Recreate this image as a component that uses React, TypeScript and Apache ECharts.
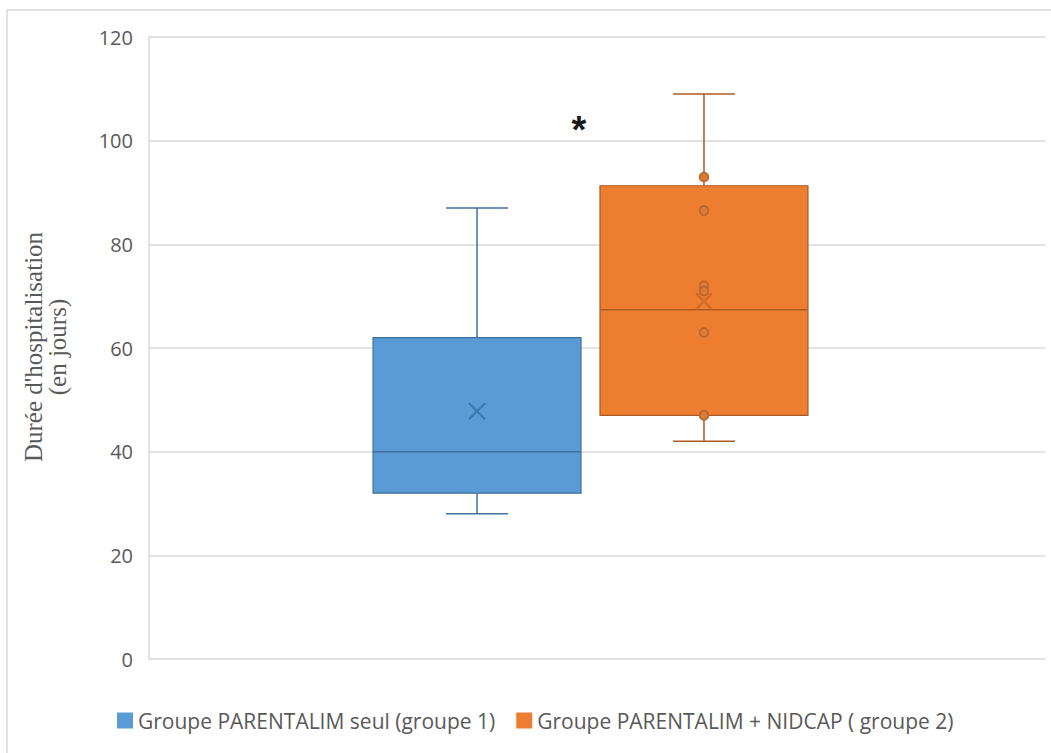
import React, { useEffect, useRef } from "react";
import * as echarts from "echarts";

const seriesNames = [
  "Groupe PARENTALIM seul (groupe 1)",
  "Groupe PARENTALIM + NIDCAP ( groupe 2)",
];
const categories = [""];
// [min, Q1, median, Q3, max, mean]
const group1Stats = [28, 32, 40, 62, 87, 47.8];
const group2Stats = [42, 47, 67.4, 91.3, 109, 69];
const group2Points = [93, 86.5, 72, 71, 63, 47];
const yMin = 0;
const yMax = 120;
const yStep = 20;
const yTitle = "Durée d'hospitalisation\n(en jours)";
const significance = "*";

const BLUE = "#5b9bd5";
const BLUE_DARK = "#41719c";
const ORANGE = "#ed7d31";
const ORANGE_DARK = "#ae5a21";

function boxRenderer(offsetFrac: number, fill: string, stroke: string, meanColor: string) {
  return (params: any, api: any) => {
    const band = api.size([1, 0])[0];
    const cx = api.coord([api.value(0), 0])[0] + offsetFrac * band;
    const w = 0.2321 * band;
    const cap = 0.0692 * band;
    const y = (i: number) => api.coord([api.value(0), api.value(i)])[1];
    const ymin = y(1), yq1 = y(2), ymed = y(3), yq3 = y(4), ymax = y(5), ymean = y(6);
    const ls = { stroke, lineWidth: 1.5 };
    const m = 8;
    return {
      type: "group",
      children: [
        { type: "line", shape: { x1: cx, y1: ymax, x2: cx, y2: yq3 }, style: ls },
        { type: "line", shape: { x1: cx, y1: yq1, x2: cx, y2: ymin }, style: ls },
        { type: "line", shape: { x1: cx - cap / 2, y1: ymax, x2: cx + cap / 2, y2: ymax }, style: ls },
        { type: "line", shape: { x1: cx - cap / 2, y1: ymin, x2: cx + cap / 2, y2: ymin }, style: ls },
        {
          type: "rect",
          shape: { x: cx - w / 2, y: yq3, width: w, height: yq1 - yq3 },
          style: { fill, stroke, lineWidth: 1.2 },
        },
        { type: "line", shape: { x1: cx - w / 2, y1: ymed, x2: cx + w / 2, y2: ymed }, style: { stroke, lineWidth: 1.5 } },
        { type: "line", shape: { x1: cx - m, y1: ymean - m, x2: cx + m, y2: ymean + m }, style: { stroke: meanColor, lineWidth: 2.2 } },
        { type: "line", shape: { x1: cx - m, y1: ymean + m, x2: cx + m, y2: ymean - m }, style: { stroke: meanColor, lineWidth: 2.2 } },
      ],
    };
  };
}

function pointRenderer(offsetFrac: number) {
  return (params: any, api: any) => {
    const band = api.size([1, 0])[0];
    const p = api.coord([api.value(0), api.value(1)]);
    return {
      type: "circle",
      shape: { cx: p[0] + offsetFrac * band, cy: p[1], r: 4.5 },
      style: { fill: "#d97a38", stroke: "#b8622a", lineWidth: 1.5 },
    };
  };
}

export default function App() {
  const ref = useRef<HTMLDivElement>(null);
  useEffect(() => {
    if (!ref.current) return;
    const chart = echarts.init(ref.current, undefined, { renderer: "svg" });
    const off1 = -0.1339;
    const off2 = 0.1194;
    chart.setOption({
      animation: false,
      backgroundColor: "#ffffff",
      grid: { left: 149, right: 6, top: 37, bottom: 94, containLabel: false },
      xAxis: {
        type: "category",
        data: categories,
        axisLine: { show: false },
        axisTick: { show: false },
        axisLabel: { show: false },
        splitLine: { show: false },
      },
      yAxis: {
        type: "value",
        min: yMin,
        max: yMax,
        interval: yStep,
        axisLine: { show: true, lineStyle: { color: "#d9d9d9", width: 1.5 } },
        axisTick: { show: false },
        axisLabel: { color: "#595959", fontSize: 20, fontFamily: "Open Sans", margin: 16 },
        splitLine: { lineStyle: { color: "#d9d9d9", width: 1.5 } },
      },
      legend: {
        data: seriesNames,
        left: 112,
        top: 705,
        icon: "rect",
        itemWidth: 16,
        itemHeight: 16,
        itemGap: 21,
        itemStyle: { borderWidth: 0 },
        textStyle: { color: "#595959", fontSize: 21, fontFamily: "Open Sans" },
      },
      series: [
        {
          type: "custom",
          name: seriesNames[0],
          itemStyle: { color: BLUE },
          renderItem: boxRenderer(off1, BLUE, BLUE_DARK, "#3f77b0"),
          data: [[0, ...group1Stats]],
        },
        {
          type: "custom",
          name: seriesNames[1],
          itemStyle: { color: ORANGE },
          renderItem: boxRenderer(off2, ORANGE, ORANGE_DARK, "#d06a28"),
          data: [[0, ...group2Stats]],
        },
        {
          type: "custom",
          name: "points",
          renderItem: pointRenderer(off2),
          data: group2Points.map((v) => [0, v]),
          z: 5,
        },
      ],
      graphic: [
        {
          type: "rect",
          shape: { x: 7, y: 10, width: 1200, height: 900 },
          style: { fill: "none", stroke: "#d9d9d9", lineWidth: 1.5 },
          silent: true,
        },
        {
          type: "text",
          x: 45,
          y: 347,
          rotation: Math.PI / 2,
          style: {
            text: yTitle,
            font: "25px 'Liberation Serif'",
            fill: "#595959",
            align: "center",
            verticalAlign: "middle",
            lineHeight: 24,
          },
        },
        {
          type: "text",
          x: 579,
          y: 130,
          style: {
            text: significance,
            font: "bold 38px 'Liberation Sans'",
            fill: "#1a1a1a",
            align: "center",
            verticalAlign: "middle",
          },
        },
      ],
    });
    return () => chart.dispose();
  }, []);
  return (
    <div
      ref={ref}
      style={{ position: "fixed", left: 0, top: 0, width: 1051, height: 753 }}
    />
  );
}
